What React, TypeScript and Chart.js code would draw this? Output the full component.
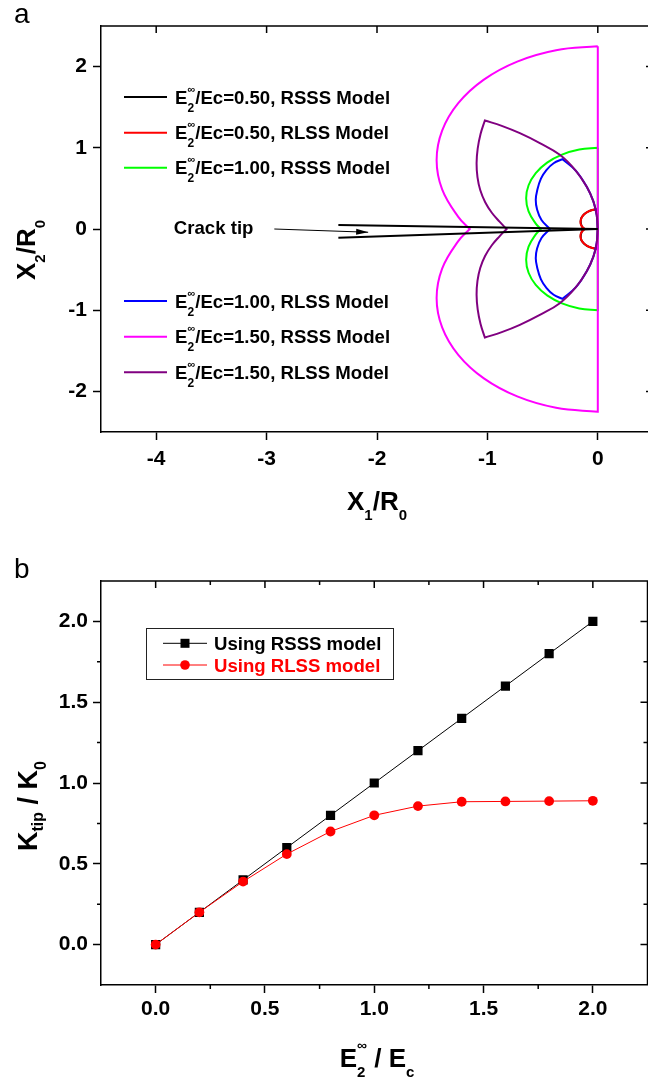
import React, { useEffect, useRef } from "react";
import { Chart, registerables } from "chart.js";

Chart.register(...registerables);

const FONT = '"Liberation Sans", Arial, Helvetica, sans-serif';

// ---------------- Panel a : plastic zone shapes ----------------
const A_X_TICKS = [-4, -3, -2, -1, 0];
const A_Y_TICKS = [-2, -1, 0, 1, 2];

const A_LEGEND_RATIO = ["0.50", "0.50", "1.00", "1.00", "1.50", "1.50"];
const A_LEGEND_MODEL = ["RSSS", "RLSS", "RSSS", "RLSS", "RSSS", "RLSS"];
const A_COLORS = ["#000000", "#ff0000", "#00ff00", "#0000ff", "#ff00ff", "#800080"];

// E2/Ec = 0.50, RSSS model
const RSSS_050_X = [0, -0.04, -0.078, -0.11, -0.135, -0.151, -0.155, -0.15, -0.137, -0.12, -0.12, -0.137, -0.15, -0.155, -0.151, -0.135, -0.11, -0.078, -0.04, 0, 0, 0];
const RSSS_050_Y = [0.24, 0.236, 0.221, 0.197, 0.166, 0.13, 0.09, 0.052, 0.017, 0, 0, -0.017, -0.052, -0.09, -0.13, -0.166, -0.197, -0.221, -0.236, -0.24, -0.24, 0.24];
// E2/Ec = 0.50, RLSS model
const RLSS_050_X = [0, -0.003, -0.01, -0.01, -0.05, -0.1, -0.14, -0.157, -0.148, -0.118, -0.118, -0.148, -0.157, -0.14, -0.1, -0.05, -0.01, -0.01, -0.003, 0];
const RLSS_050_Y = [0, 0.12, 0.24, 0.24, 0.235, 0.205, 0.155, 0.09, 0.04, 0, 0, -0.04, -0.09, -0.155, -0.205, -0.235, -0.24, -0.24, -0.12, 0];
// E2/Ec = 1.00, RSSS model
const RSSS_100_X = [0, -0.168, -0.324, -0.459, -0.562, -0.627, -0.649, -0.627, -0.562, -0.517, -0.517, -0.562, -0.627, -0.649, -0.627, -0.562, -0.459, -0.324, -0.168, 0, 0, 0];
const RSSS_100_Y = [1.0, 0.979, 0.916, 0.818, 0.689, 0.539, 0.378, 0.217, 0.067, 0, 0, -0.067, -0.217, -0.378, -0.539, -0.689, -0.818, -0.916, -0.979, -1.0, -1.0, 1.0];
// E2/Ec = 1.00, RLSS model
const RLSS_100_X = [0, -0.01, -0.04, -0.1, -0.2, -0.32, -0.32, -0.4, -0.464, -0.515, -0.548, -0.562, -0.55, -0.51, -0.434, -0.434, -0.51, -0.55, -0.562, -0.548, -0.515, -0.464, -0.4, -0.32, -0.32, -0.2, -0.1, -0.04, -0.01, 0];
const RLSS_100_Y = [0, 0.17, 0.34, 0.52, 0.72, 0.86, 0.86, 0.81, 0.728, 0.62, 0.48, 0.36, 0.24, 0.11, 0, 0, -0.11, -0.24, -0.36, -0.48, -0.62, -0.728, -0.81, -0.86, -0.86, -0.72, -0.52, -0.34, -0.17, 0];
// E2/Ec = 1.50, RSSS model
const RSSS_150_X = [0, -0.378, -0.73, -1.032, -1.264, -1.41, -1.46, -1.41, -1.264, -1.16, -1.16, -1.264, -1.41, -1.46, -1.41, -1.264, -1.032, -0.73, -0.378, 0, 0, 0];
const RSSS_150_Y = [2.25, 2.202, 2.062, 1.84, 1.55, 1.212, 0.85, 0.488, 0.15, 0, 0, -0.15, -0.488, -0.85, -1.212, -1.55, -1.84, -2.062, -2.202, -2.25, -2.25, 2.25];
// E2/Ec = 1.50, RLSS model
const RLSS_150_X = [0, -0.01, -0.04, -0.1, -0.2, -0.344, -0.525, -0.706, -0.87, -1.023, -1.023, -1.062, -1.088, -1.098, -1.09, -1.065, -1.02, -0.96, -0.89, -0.826, -0.826, -0.89, -0.96, -1.02, -1.065, -1.09, -1.098, -1.088, -1.062, -1.023, -1.023, -0.87, -0.706, -0.525, -0.344, -0.2, -0.1, -0.04, -0.01, 0];
const RLSS_150_Y = [0, 0.17, 0.34, 0.52, 0.72, 0.914, 1.058, 1.18, 1.27, 1.337, 1.337, 1.17, 0.99, 0.81, 0.64, 0.48, 0.33, 0.2, 0.09, 0, 0, -0.09, -0.2, -0.33, -0.48, -0.64, -0.81, -0.99, -1.17, -1.337, -1.337, -1.27, -1.18, -1.058, -0.914, -0.72, -0.52, -0.34, -0.17, 0];

// crack faces and annotation
const CRACK_X = [-2.35, 0, -2.35];
const CRACK_Y = [0.05, 0, -0.107];
const CRACK_LABEL_POS = [-3.84, -0.062];
const ARROW_X = [-2.93, -2.08];
const ARROW_Y = [0.0, -0.04];

// ---------------- Panel b : K_tip / K_0 ----------------
const B_X_TICKS = [0, 0.5, 1.0, 1.5, 2.0];
const B_Y_TICKS = [0, 0.5, 1.0, 1.5, 2.0];
const B_MINOR_TICKS = [0.25, 0.75, 1.25, 1.75];
const E_RATIO = [0, 0.2, 0.4, 0.6, 0.8, 1.0, 1.2, 1.4, 1.6, 1.8, 2.0];
const K_RSSS = [0, 0.2, 0.4, 0.6, 0.8, 1.0, 1.2, 1.4, 1.6, 1.8, 2.0];
const K_RLSS = [0, 0.2, 0.39, 0.56, 0.7, 0.8, 0.857, 0.884, 0.886, 0.888, 0.89];
const B_LEGEND = ["Using RSSS model", "Using RLSS model"];
const B_COLORS = ["#000000", "#ff0000"];

// ---------------- helpers ----------------
type Run =
  | { t: string; size: number; dy?: number; weight?: string }
  | { sup: string; sub: string; supSize: number; subSize: number; supDy: number; subDy: number };

function setFont(ctx: CanvasRenderingContext2D, size: number, weight = "bold") {
  ctx.font = `${weight} ${size}px ${FONT}`;
}

function runWidth(ctx: CanvasRenderingContext2D, r: Run) {
  if ("t" in r) {
    setFont(ctx, r.size, r.weight || "bold");
    return ctx.measureText(r.t).width;
  }
  setFont(ctx, r.supSize);
  const a = ctx.measureText(r.sup).width;
  setFont(ctx, r.subSize);
  const b = ctx.measureText(r.sub).width;
  return Math.max(a, b);
}

function drawRich(ctx: CanvasRenderingContext2D, runs: Run[], x: number, y: number, align: "left" | "center", color: string) {
  const total = runs.reduce((s, r) => s + runWidth(ctx, r), 0);
  let cx = align === "center" ? x - total / 2 : x;
  ctx.fillStyle = color;
  ctx.textAlign = "left";
  ctx.textBaseline = "alphabetic";
  for (const r of runs) {
    const w = runWidth(ctx, r);
    if ("t" in r) {
      setFont(ctx, r.size, r.weight || "bold");
      ctx.fillText(r.t, cx, y + (r.dy || 0));
    } else {
      setFont(ctx, r.supSize);
      ctx.fillText(r.sup, cx, y + r.supDy);
      setFont(ctx, r.subSize);
      ctx.fillText(r.sub, cx, y + r.subDy);
    }
    cx += w;
  }
}

function xy(xs: number[], ys: number[]) {
  return xs.map((x, i) => ({ x, y: ys[i] }));
}

function drawFrame(chart: any, xMajor: number[], yMajor: number[], xMinor: number[], yMinor: number[]) {
  const { ctx, chartArea: ca, scales } = chart;
  const sx = scales.x;
  const sy = scales.y;
  ctx.save();
  ctx.strokeStyle = "#000";
  ctx.lineWidth = 1.5;
  ctx.beginPath();
  ctx.moveTo(ca.left, ca.top);
  ctx.lineTo(ca.right, ca.top);
  ctx.lineTo(ca.right, ca.bottom);
  ctx.stroke();
  const MAJ = 7;
  const MIN = 4;
  ctx.beginPath();
  for (const v of xMajor) {
    const p = sx.getPixelForValue(v);
    ctx.moveTo(p, ca.top);
    ctx.lineTo(p, ca.top + MAJ);
  }
  for (const v of xMinor) {
    const p = sx.getPixelForValue(v);
    ctx.moveTo(p, ca.top);
    ctx.lineTo(p, ca.top + MIN);
    ctx.moveTo(p, ca.bottom);
    ctx.lineTo(p, ca.bottom + MIN);
  }
  for (const v of yMajor) {
    const p = sy.getPixelForValue(v);
    ctx.moveTo(ca.right, p);
    ctx.lineTo(ca.right - MAJ, p);
  }
  for (const v of yMinor) {
    const p = sy.getPixelForValue(v);
    ctx.moveTo(ca.right, p);
    ctx.lineTo(ca.right - MIN, p);
    ctx.moveTo(ca.left, p);
    ctx.lineTo(ca.left - MIN, p);
  }
  ctx.stroke();
  ctx.restore();
}

function axisCommon(min: number, max: number, ticks: number[], fit: (s: any) => void, padding: number, fmt?: (v: number) => string) {
  return {
    type: "linear" as const,
    min,
    max,
    afterBuildTicks: (s: any) => {
      s.ticks = ticks.map((v) => ({ value: v }));
    },
    afterFit: fit,
    ticks: {
      color: "#000",
      padding,
      font: { family: FONT, size: 21, weight: "bold" as const },
      callback: (v: any) => (fmt ? fmt(Number(v)) : String(v)),
    },
    grid: { drawOnChartArea: false, drawTicks: true, tickLength: 8, tickColor: "#000", tickWidth: 1.5 },
    border: { display: true, color: "#000", width: 1.5 },
  };
}

const panelAPlugin = {
  id: "panelA",
  afterDraw(chart: any) {
    const { ctx, scales } = chart;
    const sx = scales.x;
    const sy = scales.y;
    drawFrame(chart, A_X_TICKS, A_Y_TICKS, [], []);
    ctx.save();
    // panel letter
    setFont(ctx, 28, "normal");
    ctx.fillStyle = "#000";
    ctx.textAlign = "left";
    ctx.textBaseline = "alphabetic";
    ctx.fillText("a", 14, 23);
    // legend
    const rows = [97, 132.7, 167.7, 301, 336.7, 372.3];
    rows.forEach((ry, i) => {
      ctx.strokeStyle = A_COLORS[i];
      ctx.lineWidth = 2;
      ctx.beginPath();
      ctx.moveTo(124, ry);
      ctx.lineTo(167, ry);
      ctx.stroke();
      drawRich(
        ctx,
        [
          { t: "E", size: 18.6 },
          { sup: "\u221E", sub: "2", supSize: 11, subSize: 12, supDy: -11, subDy: 8 },
          { t: `/Ec=${A_LEGEND_RATIO[i]}, ${A_LEGEND_MODEL[i]} Model`, size: 18.6 },
        ],
        175,
        ry + 6.5,
        "left",
        "#000"
      );
    });
    // crack tip annotation
    setFont(ctx, 18.6);
    ctx.fillStyle = "#000";
    ctx.fillText("Crack tip", sx.getPixelForValue(CRACK_LABEL_POS[0]), sy.getPixelForValue(CRACK_LABEL_POS[1]));
    const x0 = sx.getPixelForValue(ARROW_X[0]);
    const y0 = sy.getPixelForValue(ARROW_Y[0]);
    const x1 = sx.getPixelForValue(ARROW_X[1]);
    const y1 = sy.getPixelForValue(ARROW_Y[1]);
    ctx.strokeStyle = "#000";
    ctx.lineWidth = 1;
    ctx.beginPath();
    ctx.moveTo(x0, y0);
    ctx.lineTo(x1, y1);
    ctx.stroke();
    const ang = Math.atan2(y1 - y0, x1 - x0);
    ctx.beginPath();
    ctx.moveTo(x1, y1);
    ctx.lineTo(x1 - 12 * Math.cos(ang) + 3 * Math.sin(ang), y1 - 12 * Math.sin(ang) - 3 * Math.cos(ang));
    ctx.lineTo(x1 - 12 * Math.cos(ang) - 3 * Math.sin(ang), y1 - 12 * Math.sin(ang) + 3 * Math.cos(ang));
    ctx.closePath();
    ctx.fill();
    // axis titles
    drawRich(
      ctx,
      [
        { t: "X", size: 26 },
        { t: "1", size: 15, dy: 10 },
        { t: "/R", size: 26 },
        { t: "0", size: 15, dy: 10 },
      ],
      377,
      510,
      "center",
      "#000"
    );
    ctx.translate(35, 250);
    ctx.rotate(-Math.PI / 2);
    drawRich(
      ctx,
      [
        { t: "X", size: 26 },
        { t: "2", size: 15, dy: 10 },
        { t: "/R", size: 26 },
        { t: "0", size: 15, dy: 10 },
      ],
      0,
      0,
      "center",
      "#000"
    );
    ctx.restore();
  },
};

const panelBPlugin = {
  id: "panelB",
  afterDraw(chart: any) {
    const { ctx } = chart;
    drawFrame(chart, B_X_TICKS, B_Y_TICKS, B_MINOR_TICKS, B_MINOR_TICKS);
    ctx.save();
    setFont(ctx, 28, "normal");
    ctx.fillStyle = "#000";
    ctx.textAlign = "left";
    ctx.textBaseline = "alphabetic";
    ctx.fillText("b", 14, 35);
    // legend box
    ctx.strokeStyle = "#222";
    ctx.lineWidth = 1;
    ctx.strokeRect(146.5, 85.5, 247, 51);
    const rows = [100.3, 122];
    rows.forEach((ry, i) => {
      ctx.strokeStyle = B_COLORS[i];
      ctx.fillStyle = B_COLORS[i];
      ctx.lineWidth = 1;
      ctx.beginPath();
      ctx.moveTo(163, ry);
      ctx.lineTo(207, ry);
      ctx.stroke();
      if (i === 0) {
        ctx.fillRect(185 - 4.5, ry - 4.5, 9, 9);
      } else {
        ctx.beginPath();
        ctx.arc(185, ry, 4.8, 0, Math.PI * 2);
        ctx.fill();
      }
      drawRich(ctx, [{ t: B_LEGEND[i], size: 18.6 }], 214, ry + 6.5, "left", B_COLORS[i]);
    });
    // axis titles
    drawRich(
      ctx,
      [
        { t: "E", size: 26 },
        { sup: "\u221E", sub: "2", supSize: 14, subSize: 15, supDy: -17, subDy: 10 },
        { t: " / E", size: 26 },
        { t: "c", size: 15, dy: 10 },
      ],
      377,
      523.7,
      "center",
      "#000"
    );
    ctx.translate(36.7, 263);
    ctx.rotate(-Math.PI / 2);
    drawRich(
      ctx,
      [
        { t: "K", size: 27 },
        { t: "tip", size: 16, dy: 6 },
        { t: " / K", size: 27 },
        { t: "0", size: 16, dy: 9 },
      ],
      0,
      0,
      "center",
      "#000"
    );
    ctx.restore();
  },
};

function lineDs(xs: number[], ys: number[], color: string, order: number) {
  return {
    data: xy(xs, ys),
    showLine: true,
    borderColor: color,
    backgroundColor: color,
    borderWidth: 2,
    pointRadius: 0,
    tension: 0.4,
    fill: false,
    order,
  };
}

export default function App() {
  const refA = useRef<HTMLCanvasElement>(null);
  const refB = useRef<HTMLCanvasElement>(null);

  useEffect(() => {
    const chartA = new Chart(refA.current as HTMLCanvasElement, {
      type: "scatter",
      data: {
        datasets: [
          lineDs(RSSS_050_X, RSSS_050_Y, A_COLORS[0], 7),
          lineDs(RLSS_050_X, RLSS_050_Y, A_COLORS[1], 6),
          lineDs(RSSS_100_X, RSSS_100_Y, A_COLORS[2], 5),
          lineDs(RLSS_100_X, RLSS_100_Y, A_COLORS[3], 4),
          lineDs(RSSS_150_X, RSSS_150_Y, A_COLORS[4], 3),
          lineDs(RLSS_150_X, RLSS_150_Y, A_COLORS[5], 2),
          { ...lineDs(CRACK_X, CRACK_Y, "#000000", 1), tension: 0 },
        ] as any,
      },
      options: {
        responsive: false,
        animation: false,
        events: [],
        layout: { padding: { top: 26, right: 1, left: 0, bottom: 0 } },
        plugins: { legend: { display: false }, tooltip: { enabled: false }, title: { display: false } },
        scales: {
          x: { ...axisCommon(-4.5, 0.5, A_X_TICKS, (s: any) => { s.height = 111; }, 6.5), position: "bottom" },
          y: { ...axisCommon(-2.5, 2.5, A_Y_TICKS, (s: any) => { s.width = 101; }, 6), position: "left" },
        } as any,
      },
      plugins: [panelAPlugin],
    });

    const chartB = new Chart(refB.current as HTMLCanvasElement, {
      type: "scatter",
      data: {
        datasets: [
          {
            data: xy(E_RATIO, K_RSSS),
            showLine: true,
            borderColor: B_COLORS[0],
            backgroundColor: B_COLORS[0],
            borderWidth: 1,
            pointStyle: "rect",
            pointRadius: 6.5,
            pointBorderWidth: 0,
            pointBackgroundColor: B_COLORS[0],
            order: 2,
          },
          {
            data: xy(E_RATIO, K_RLSS),
            showLine: true,
            borderColor: B_COLORS[1],
            backgroundColor: B_COLORS[1],
            borderWidth: 1,
            pointStyle: "circle",
            pointRadius: 4.9,
            pointBorderWidth: 0,
            pointBackgroundColor: B_COLORS[1],
            order: 1,
          },
        ] as any,
      },
      options: {
        responsive: false,
        animation: false,
        events: [],
        layout: { padding: { top: 38, right: 1, left: 0, bottom: 0 } },
        plugins: { legend: { display: false }, tooltip: { enabled: false }, title: { display: false } },
        scales: {
          x: { ...axisCommon(-0.25, 2.25, B_X_TICKS, (s: any) => { s.height = 101; }, 3.6, (v) => v.toFixed(1)), position: "bottom" },
          y: { ...axisCommon(-0.25, 2.25, B_Y_TICKS, (s: any) => { s.width = 101; }, 5, (v) => v.toFixed(1)), position: "left" },
        } as any,
      },
      plugins: [panelBPlugin],
    });

    return () => {
      chartA.destroy();
      chartB.destroy();
    };
  }, []);

  return (
    <div style={{ position: "absolute", left: 0, top: 0, width: 648, height: 1086, overflow: "hidden", background: "#fff" }}>
      <div style={{ position: "absolute", left: 0, top: 0, width: 654, height: 543 }}>
        <canvas ref={refA} width={654} height={543} style={{ display: "block", width: 654, height: 543 }} />
      </div>
      <div style={{ position: "absolute", left: 0, top: 543, width: 654, height: 543 }}>
        <canvas ref={refB} width={654} height={543} style={{ display: "block", width: 654, height: 543 }} />
      </div>
    </div>
  );
}
